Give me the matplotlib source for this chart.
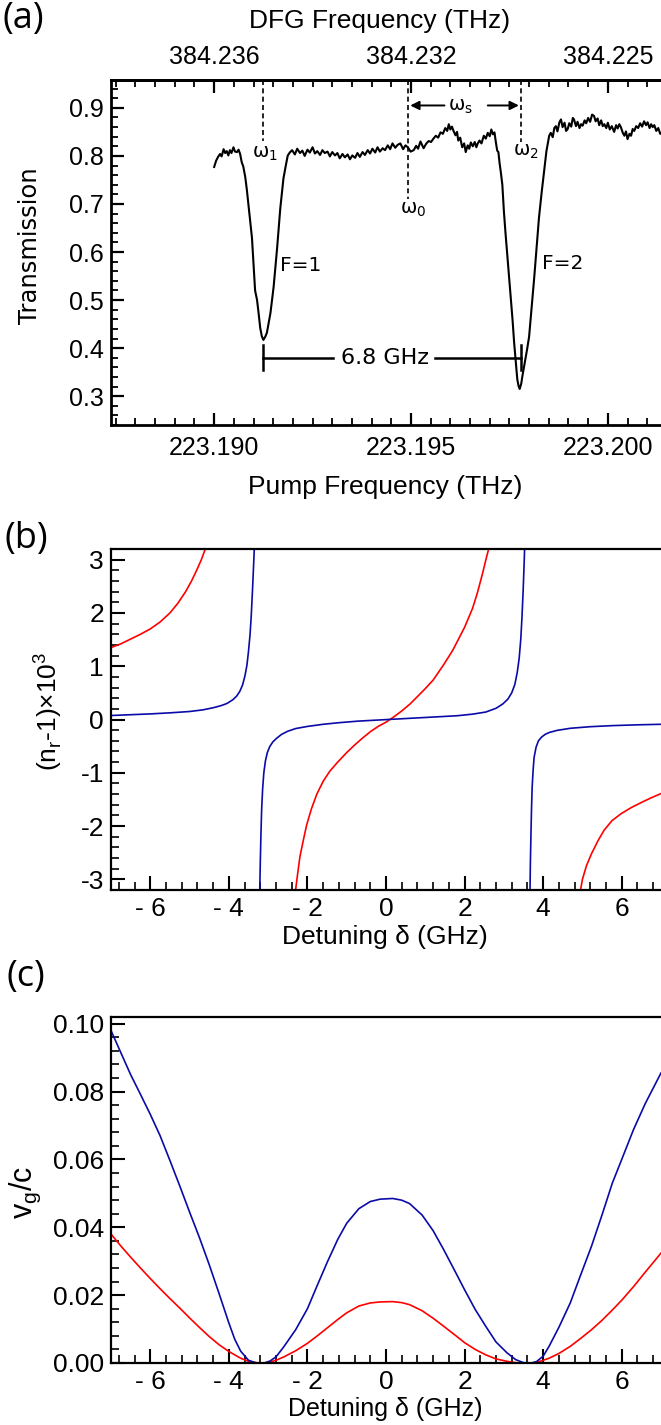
import numpy as np
import matplotlib
matplotlib.use("Agg")
import matplotlib.pyplot as plt
from matplotlib.ticker import MultipleLocator

plt.rcParams['font.family'] = ['Liberation Sans', 'DejaVu Sans']
plt.rcParams['mathtext.fontset'] = 'dejavusans'

# --- dados (a): espectro de transmissão ---
# deslocamento em GHz a partir de 223.190 THz
pump_ghz = [0.00, 0.05, 0.10, 0.15, 0.19, 0.24, 0.28, 0.32, 0.36, 0.40, 0.44, 0.49, 0.53, 0.58,
            0.62, 0.66, 0.70, 0.74, 0.79, 0.83, 0.87, 0.96, 1.00, 1.04, 1.09, 1.13, 1.17, 1.21,
            1.25, 1.30, 1.34, 1.43, 1.51, 1.60, 1.68, 1.76, 1.82, 1.87, 1.93,
            1.98, 2.05, 2.11, 2.18, 2.24, 2.30, 2.37, 2.43, 2.50, 2.56, 2.62, 2.69, 2.75, 2.81,
            2.88, 2.94, 3.00, 3.07, 3.13, 3.19, 3.26, 3.32, 3.39, 3.45, 3.51, 3.58, 3.64, 3.70,
            3.77, 3.83, 3.90, 3.96, 4.02, 4.09, 4.15, 4.21, 4.28, 4.34, 4.41, 4.47, 4.53, 4.60,
            4.66, 4.73, 4.80, 4.86, 4.92, 4.99, 5.07, 5.13, 5.18, 5.24, 5.32, 5.39, 5.45, 5.51,
            5.57, 5.63, 5.69, 5.75, 5.81, 5.87, 5.92, 5.96, 6.00, 6.04, 6.08, 6.13, 6.17, 6.20,
            6.25, 6.30, 6.35, 6.39, 6.44, 6.48, 6.52, 6.57, 6.62, 6.66, 6.69, 6.74, 6.79, 6.85,
            6.90, 6.95, 7.00, 7.04, 7.08, 7.12, 7.16, 7.19, 7.22, 7.25, 7.28, 7.32, 7.36, 7.40,
            7.45, 7.49, 7.53, 7.58, 7.62, 7.66, 7.70, 7.73, 7.76, 7.80, 7.83, 7.90, 7.95, 8.00,
            8.06, 8.13, 8.19, 8.25, 8.32, 8.38, 8.44, 8.51, 8.55, 8.60, 8.64, 8.68, 8.72, 8.77,
            8.81, 8.85, 8.90, 8.94, 8.98, 9.02, 9.07, 9.11, 9.14, 9.19, 9.23, 9.28, 9.32, 9.36,
            9.41, 9.45, 9.50, 9.55, 9.60, 9.65, 9.69, 9.74, 9.78, 9.83, 9.87, 9.91, 9.96, 10.00,
            10.05, 10.10, 10.16, 10.21, 10.25, 10.29, 10.33, 10.38, 10.42, 10.46, 10.50, 10.55,
            10.59, 10.63, 10.67, 10.72, 10.77, 10.82, 10.87, 10.92, 10.97, 11.01, 11.06, 11.10,
            11.14, 11.18, 11.23, 11.28, 11.33, 11.38]
transmissao = [0.777, 0.790, 0.798, 0.804, 0.799, 0.814, 0.806, 0.810, 0.801, 0.812, 0.806, 0.818,
               0.809, 0.808, 0.813, 0.804, 0.787, 0.778, 0.756, 0.730, 0.699, 0.630, 0.575, 0.520,
               0.500, 0.472, 0.442, 0.425, 0.417, 0.424, 0.432, 0.473, 0.527, 0.609, 0.691, 0.753,
               0.780, 0.801, 0.808,
               0.812, 0.803, 0.815, 0.806, 0.811, 0.800, 0.813, 0.807, 0.818, 0.805, 0.810, 0.802,
               0.812, 0.806, 0.809, 0.799, 0.808, 0.801, 0.806, 0.795, 0.804, 0.797, 0.803, 0.793,
               0.801, 0.796, 0.806, 0.798, 0.808, 0.802, 0.812, 0.805, 0.815, 0.807, 0.818, 0.809,
               0.816, 0.812, 0.822, 0.814, 0.826, 0.817, 0.823, 0.826, 0.814, 0.822, 0.818, 0.809,
               0.812, 0.821, 0.815, 0.830, 0.816, 0.826, 0.831, 0.829, 0.836, 0.842, 0.838, 0.849,
               0.846, 0.858, 0.852, 0.866, 0.855, 0.861, 0.852, 0.843, 0.850, 0.832, 0.838, 0.818,
               0.826, 0.808, 0.822, 0.815, 0.828, 0.820, 0.829, 0.818, 0.825, 0.832, 0.826, 0.842,
               0.836, 0.848, 0.841, 0.855, 0.845, 0.849, 0.826, 0.811, 0.808, 0.785, 0.767, 0.740,
               0.684, 0.640, 0.589, 0.548, 0.506, 0.458, 0.411, 0.372, 0.335, 0.322, 0.315, 0.326,
               0.342, 0.375, 0.398, 0.424, 0.480, 0.547, 0.610, 0.671, 0.725, 0.767, 0.810, 0.842,
               0.848, 0.839, 0.858, 0.862, 0.851, 0.870, 0.876, 0.860, 0.869, 0.852, 0.856, 0.868,
               0.861, 0.879, 0.876, 0.862, 0.871, 0.858, 0.866, 0.863, 0.874, 0.868, 0.879, 0.871,
               0.886, 0.883, 0.872, 0.878, 0.864, 0.874, 0.862, 0.866, 0.858, 0.869, 0.855, 0.862,
               0.850, 0.864, 0.857, 0.866, 0.860, 0.848, 0.842, 0.851, 0.835, 0.846, 0.842, 0.856,
               0.852, 0.862, 0.858, 0.868, 0.861, 0.872, 0.864, 0.870, 0.858, 0.866, 0.860, 0.864,
               0.852, 0.858, 0.846, 0.849]

ticks_pump = [223.190, 223.195, 223.200]
labels_pump = ['223.190', '223.195', '223.200']
labels_dfg = ['384.236', '384.232', '384.225']

# posições das ressonâncias (GHz a partir de 223.190 THz)
w1_ghz, w0_ghz, w2_ghz = 1.25, 4.93, 7.79

# --- dados (b): índice de refração (NaN separa os ramos) ---
b_azul_x = [-7.0, -6.5, -6.0, -5.5, -5.0, -4.67, -4.4, -4.2, -4.05, -3.9, -3.8, -3.72, -3.65,
            -3.59, -3.54, -3.50, -3.46, -3.43, -3.40, -3.37, -3.35, np.nan,
            -3.215, -3.20, -3.185, -3.165, -3.14, -3.11, -3.07, -3.02, -2.96, -2.88, -2.78,
            -2.66, -2.50, -2.30, -2.0, -1.6, -1.2, -0.7, -0.2, 0.3, 0.8, 1.3, 1.8, 2.2, 2.54,
            2.8, 2.97, 3.10, 3.20, 3.28, 3.34, 3.39, 3.43, 3.46, 3.49, 3.515, 3.53, np.nan,
            3.665, 3.675, 3.69, 3.705, 3.72, 3.745, 3.77, 3.82, 3.88, 3.96, 4.05, 4.15, 4.35,
            4.69, 5.2, 5.76, 6.4, 7.0]
b_azul_y = [0.075, 0.09, 0.105, 0.125, 0.15, 0.18, 0.22, 0.26, 0.30, 0.37, 0.44, 0.53, 0.65,
            0.82, 1.02, 1.28, 1.60, 1.95, 2.40, 2.90, 3.25, np.nan,
            -3.25, -2.70, -2.20, -1.68, -1.30, -1.00, -0.78, -0.62, -0.51, -0.42, -0.35,
            -0.28, -0.22, -0.17, -0.13, -0.09, -0.06, -0.03, -0.01, 0.01, 0.03, 0.05, 0.07,
            0.10, 0.14, 0.21, 0.29, 0.38, 0.50, 0.66, 0.88, 1.15, 1.50, 1.90, 2.40, 2.90, 3.25,
            np.nan,
            -3.25, -2.70, -2.14, -1.65, -1.27, -0.95, -0.71, -0.52, -0.40, -0.33, -0.28, -0.245,
            -0.205, -0.165, -0.135, -0.115, -0.10, -0.09]
b_verm_x = [-7.0, -6.75, -6.5, -6.25, -6.0, -5.75, -5.5, -5.3, -5.1, -4.95, -4.82, -4.70, -4.60,
            -4.56, np.nan,
            -2.31, -2.25, -2.19, -2.10, -2.02, -1.90, -1.76, -1.60, -1.43, -1.23, -1.0, -0.80,
            -0.60, -0.40, -0.20, 0.0, 0.2, 0.4, 0.61, 0.80, 1.0, 1.2, 1.46, 1.7, 2.0, 2.2, 2.32,
            2.45, 2.55, 2.63, np.nan,
            4.94, 5.0, 5.1, 5.23, 5.4, 5.55, 5.75, 5.98, 6.25, 6.52, 6.75, 7.0]
b_verm_y = [1.35, 1.42, 1.51, 1.60, 1.70, 1.83, 2.00, 2.18, 2.40, 2.60, 2.80, 3.00, 3.20,
            3.25, np.nan,
            -3.25, -2.90, -2.57, -2.25, -1.98, -1.68, -1.40, -1.16, -0.97, -0.80, -0.62, -0.48,
            -0.35, -0.23, -0.13, -0.05, 0.05, 0.16, 0.29, 0.43, 0.58, 0.74, 1.02, 1.30, 1.73,
            2.08, 2.36, 2.72, 3.02, 3.25, np.nan,
            -3.25, -3.0, -2.75, -2.52, -2.27, -2.08, -1.90, -1.77, -1.65, -1.55, -1.47, -1.39]

# --- dados (c): velocidade de grupo ---
c_x = [-7.0, -6.75, -6.5, -6.25, -6.0, -5.75, -5.5, -5.25, -5.0, -4.75, -4.5, -4.25, -4.0, -3.85,
       -3.7, -3.5, -3.3, -3.1, -2.95, -2.8, -2.6, -2.3, -2.0, -1.76, -1.5, -1.23, -1.0, -0.69,
       -0.4, -0.15, 0.17, 0.4, 0.6, 0.92, 1.2, 1.46, 1.75, 2.0, 2.27, 2.54, 2.8, 3.08, 3.3, 3.5,
       3.7, 3.83, 4.0, 4.15, 4.4, 4.69, 4.95, 5.23, 5.5, 5.76, 6.0, 6.3, 6.6, 7.0]
c_azul = [0.098, 0.0915, 0.0850, 0.0792, 0.0733, 0.0670, 0.0597, 0.0522, 0.0445, 0.0370,
          0.0290, 0.0205, 0.0118, 0.0070, 0.0035, 0.0008, 0.0, 0.0, 0.0006, 0.0018, 0.0048,
          0.0098, 0.0160, 0.0226, 0.0296, 0.0364, 0.0412, 0.0455, 0.0476, 0.0483, 0.0485,
          0.0480, 0.0470, 0.0436, 0.0390, 0.0336, 0.0272, 0.0216, 0.0158, 0.0108, 0.0062,
          0.0030, 0.0010, 0.0001, 0.0, 0.0004, 0.0020, 0.0049, 0.0105, 0.0177, 0.0258, 0.0344,
          0.0437, 0.0530, 0.0600, 0.0688, 0.0765, 0.0855]
c_verm = [0.038, 0.0345, 0.0312, 0.0280, 0.0249, 0.0219, 0.0190, 0.0162, 0.0133, 0.0105,
          0.0078, 0.0054, 0.0034, 0.0024, 0.0014, 0.0005, 0.0001, 0.0, 0.0003, 0.0008, 0.0018,
          0.0036, 0.0058, 0.0079, 0.0103, 0.0128, 0.0148, 0.0168, 0.0177, 0.0180, 0.0181,
          0.0178, 0.0172, 0.0154, 0.0132, 0.0109, 0.0083, 0.0060, 0.0040, 0.0024, 0.0012,
          0.0005, 0.0001, 0.0, 0.0, 0.0002, 0.0008, 0.0014, 0.0028, 0.0049, 0.0072, 0.0098,
          0.0126, 0.0156, 0.0185, 0.0225, 0.0268, 0.0324]

det_ticks = [-6, -4, -2, 0, 2, 4, 6]
det_labels = ['- 6', '- 4', '- 2', '0', '2', '4', '6']
n_ticks = [-3, -2, -1, 0, 1, 2, 3]
n_labels = ['-3', '-2', '-1', '0', '1', '2', '3']
vg_ticks = [0.0, 0.02, 0.04, 0.06, 0.08, 0.10]
vg_labels = ['0.00', '0.02', '0.04', '0.06', '0.08', '0.10']

AZUL = '#0a0aa8'
VERM = '#ff0000'

# --- figura ---
W, H = 661, 1425
fig = plt.figure(figsize=(W / 100, H / 100), dpi=100)


def px_rect(l, t, r, b):
    return [l / W, 1 - b / H, (r - l) / W, (b - t) / H]


def ghz(v):
    return 223.190 + np.asarray(v) / 1000.0


def estilo(ax, lw_spine):
    for s in ax.spines.values():
        s.set_linewidth(lw_spine)
    ax.spines['right'].set_visible(False)


# Gráfico (a)
ax_a = fig.add_axes(px_rect(111, 80, 661, 425))
ax_a.plot(ghz(pump_ghz), transmissao, color='black', lw=1.5)
ax_a.set_xlim(223.18738, 223.20135)
ax_a.set_ylim(0.24, 0.958)
estilo(ax_a, 2.0)
ax_a.set_xticks(ticks_pump)
ax_a.set_xticklabels(labels_pump)
ax_a.xaxis.set_minor_locator(MultipleLocator(0.0005))
ax_a.set_yticks([0.3, 0.4, 0.5, 0.6, 0.7, 0.8, 0.9])
ax_a.set_yticklabels(['0.3', '0.4', '0.5', '0.6', '0.7', '0.8', '0.9'])
ax_a.yaxis.set_minor_locator(MultipleLocator(0.02))
ax_a.tick_params(which='both', direction='in', top=True, right=False, labelsize=18)
ax_a.tick_params(which='major', length=9, width=1.6)
ax_a.tick_params(which='minor', length=5, width=1.3)
ax_a.tick_params(axis='x', pad=8)
ax_a.tick_params(axis='y', pad=5)

sec = ax_a.secondary_xaxis('top')
sec.set_xticks(ticks_pump)
sec.set_xticklabels(labels_dfg)
sec.tick_params(which='both', direction='in', length=0, labelsize=18, pad=8)
sec.spines['top'].set_linewidth(2.0)

# linhas tracejadas das frequências
topo = 0.958
ax_a.plot(ghz([w1_ghz, w1_ghz]), [topo, 0.832], 'k--', lw=1.2, dashes=(3, 2))
ax_a.plot(ghz([w0_ghz, w0_ghz]), [topo, 0.711], 'k--', lw=1.2, dashes=(3, 2))
ax_a.plot(ghz([w2_ghz, w2_ghz]), [topo, 0.828], 'k--', lw=1.2, dashes=(3, 2))
fonte_anot = dict(family=['DejaVu Sans'], fontsize=14)
ax_a.text(ghz(w1_ghz + 0.05), 0.806, r'ω$_\mathregular{1}$', ha='center', va='center', **fonte_anot)
ax_a.text(ghz(w0_ghz + 0.12), 0.689, r'ω$_\mathregular{0}$', ha='center', va='center', **fonte_anot)
ax_a.text(ghz(w2_ghz + 0.12), 0.810, r'ω$_\mathregular{2}$', ha='center', va='center', **fonte_anot)
ax_a.text(ghz(6.26), 0.902, r'ω$_\mathregular{s}$', ha='center', va='center', **fonte_anot)
seta = dict(arrowstyle='-|>', color='black', lw=1.4, mutation_scale=13, shrinkA=0, shrinkB=0)
ax_a.annotate('', xy=(ghz(w0_ghz + 0.05), 0.905), xytext=(ghz(5.85), 0.905), arrowprops=seta)
ax_a.annotate('', xy=(ghz(w2_ghz - 0.05), 0.905), xytext=(ghz(6.95), 0.905), arrowprops=seta)

ax_a.text(ghz(1.68), 0.571, 'F=1', ha='left', va='center', family=['DejaVu Sans'],
          fontsize=14.5)
ax_a.text(ghz(8.34), 0.576, 'F=2', ha='left', va='center', family=['DejaVu Sans'],
          fontsize=14.5)

# marcador 6.8 GHz
y_b = 0.380
ax_a.plot(ghz([w1_ghz, 3.03]), [y_b, y_b], color='black', lw=1.8)
ax_a.plot(ghz([5.62, w2_ghz]), [y_b, y_b], color='black', lw=1.8)
ax_a.plot(ghz([w1_ghz, w1_ghz]), [y_b - 0.026, y_b + 0.026], color='black', lw=1.8)
ax_a.plot(ghz([w2_ghz, w2_ghz]), [y_b - 0.026, y_b + 0.026], color='black', lw=1.8)
ax_a.text(ghz(4.33), y_b, '6.8 GHz', ha='center', va='center', family=['DejaVu Sans'],
          fontsize=16)

# Gráfico (b)
ax_b = fig.add_axes(px_rect(111, 549, 661, 890))
ax_b.plot(b_verm_x, b_verm_y, color=VERM, lw=1.2)
ax_b.plot(b_azul_x, b_azul_y, color=AZUL, lw=1.2)
ax_b.set_xlim(-7, 7)
ax_b.set_ylim(-3.2, 3.2)
estilo(ax_b, 1.6)
ax_b.set_xticks(det_ticks)
ax_b.set_xticklabels(det_labels)
ax_b.set_yticks(n_ticks)
ax_b.set_yticklabels(n_labels)
ax_b.xaxis.set_minor_locator(MultipleLocator(0.4))
ax_b.yaxis.set_minor_locator(MultipleLocator(0.2))

# Gráfico (c)
ax_c = fig.add_axes(px_rect(111, 1017, 661, 1363))
ax_c.plot(c_x, c_verm, color=VERM, lw=1.2)
ax_c.plot(c_x, c_azul, color=AZUL, lw=1.2)
ax_c.set_xlim(-7, 7)
ax_c.set_ylim(0, 0.102)
estilo(ax_c, 1.6)
ax_c.set_xticks(det_ticks)
ax_c.set_xticklabels(det_labels)
ax_c.set_yticks(vg_ticks)
ax_c.set_yticklabels(vg_labels)
ax_c.xaxis.set_minor_locator(MultipleLocator(0.4))
ax_c.yaxis.set_minor_locator(MultipleLocator(0.004))

for ax in (ax_b, ax_c):
    ax.tick_params(which='both', direction='in', top=False, right=False, labelsize=19)
    ax.tick_params(which='major', length=10, width=1.5)
    ax.tick_params(which='minor', length=6, width=1.2)
    ax.tick_params(axis='x', pad=5)
    ax.tick_params(axis='y', pad=5)

# rótulos
fig.text(380 / W, 1 - 21 / H, 'DFG Frequency (THz)', ha='center', va='center', fontsize=19)
fig.text(385 / W, 1 - 487 / H, 'Pump Frequency (THz)', ha='center', va='center', fontsize=19)
fig.text(30 / W, 1 - 246 / H, 'Transmission', ha='center', va='center', rotation=90,
         family=['DejaVu Sans'], fontsize=17.5)
fig.text(385 / W, 1 - 937 / H, 'Detuning δ (GHz)', ha='center', va='center', fontsize=19)
fig.text(385 / W, 1 - 1409 / H, 'Detuning δ (GHz)', ha='center', va='center', fontsize=18)
fig.text(48 / W, 1 - 711 / H, r'(n$_\mathregular{r}$-1)×10$^\mathregular{3}$', ha='center',
         va='center', rotation=90, fontsize=19)
fig.text(25 / W, 1 - 1192 / H, r'v$_\mathregular{g}$/c', ha='center', va='center', rotation=90,
         fontsize=22)

painel = dict(family=['Open Sans', 'DejaVu Sans'], fontsize=26, ha='left', va='center')
fig.text(3 / W, 1 - 19 / H, '(a)', **painel)
fig.text(5 / W, 1 - 539 / H, '(b)', **painel)
fig.text(7 / W, 1 - 977 / H, '(c)', **painel)

fig.savefig('out.png', dpi=100)
